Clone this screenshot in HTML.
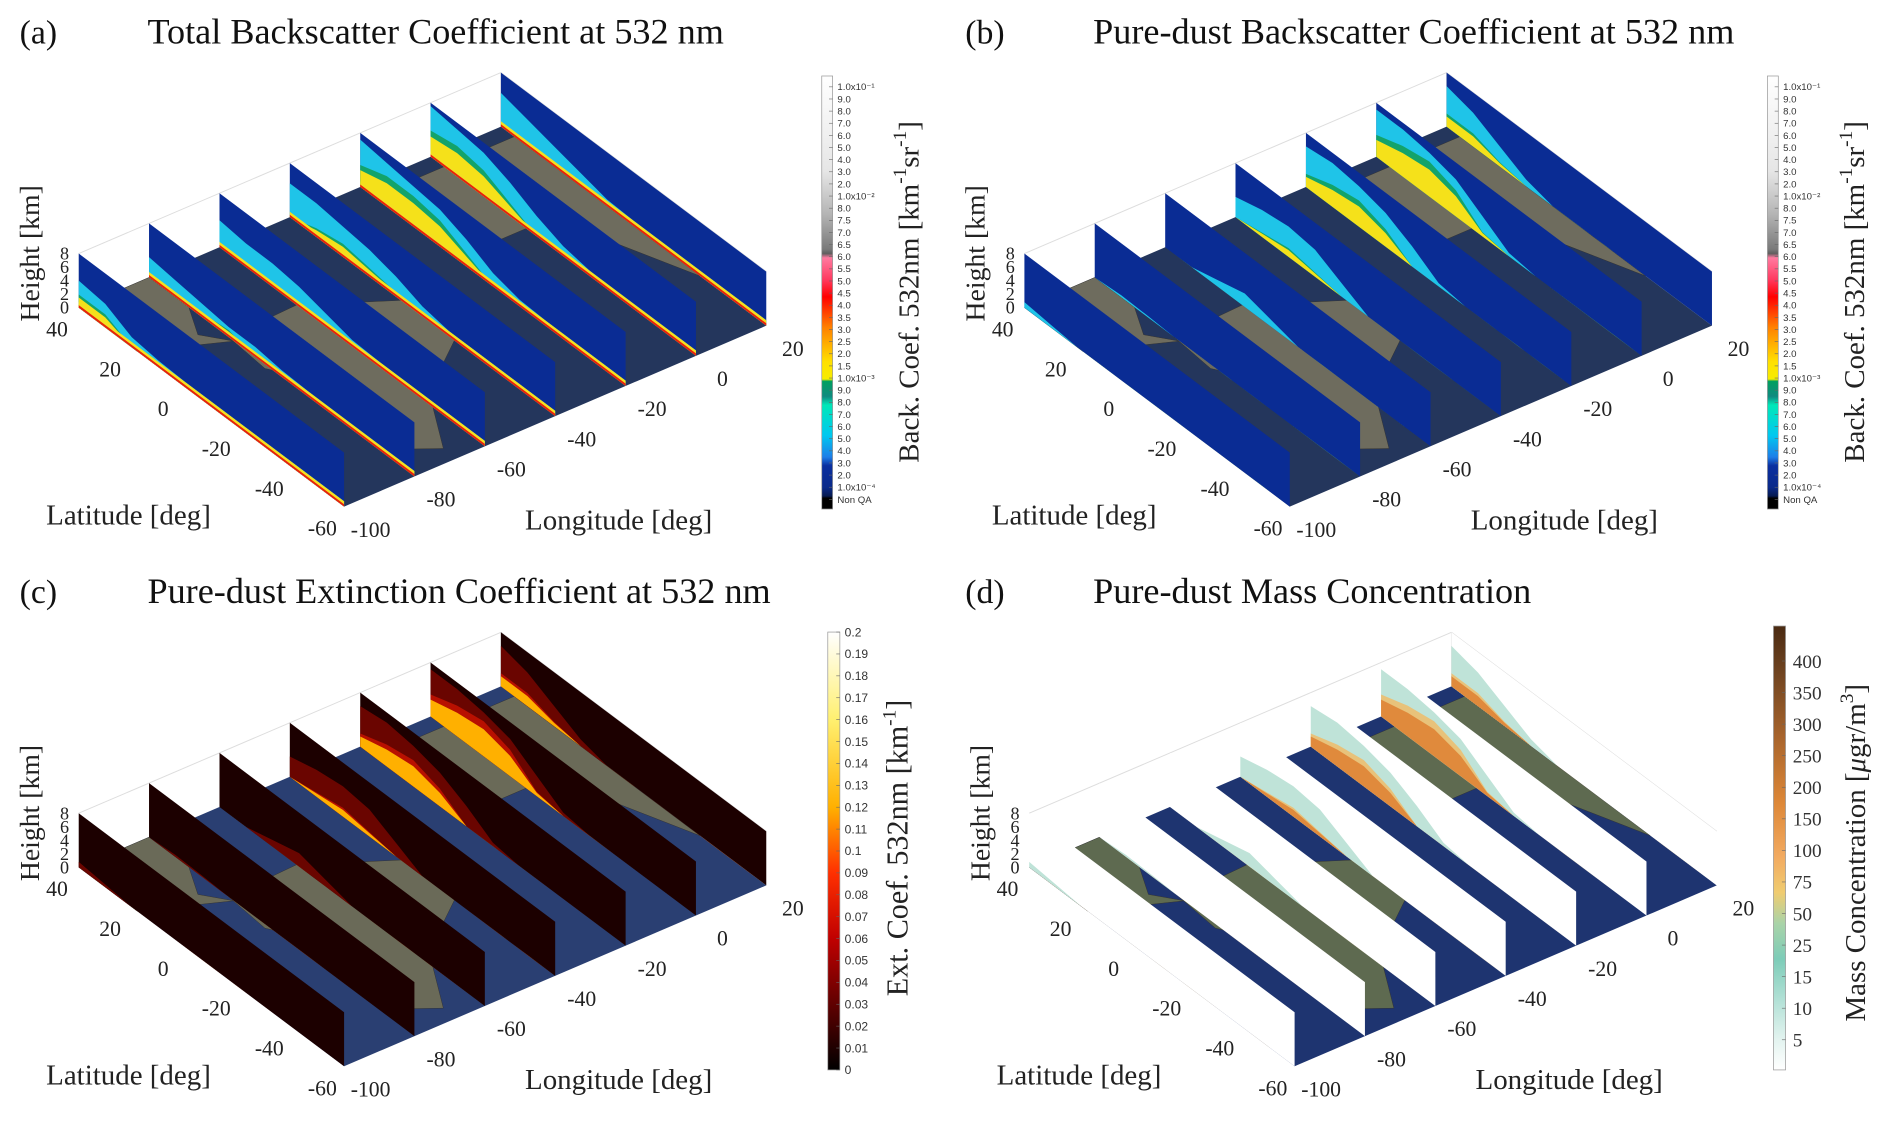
<!DOCTYPE html>
<html><head><meta charset="utf-8"><style>
html,body{margin:0;padding:0;background:#fff;}
svg{display:block;font-family:"Liberation Serif",serif;}
</style></head><body>
<svg id="fig" width="1892" height="1123" viewBox="0 0 1568 931" xmlns="http://www.w3.org/2000/svg"></svg>
<script>
const lats=[40,30,20,10,0,-10,-20,-30,-40,-50,-60];
const curtainLons=[-100,-80,-60,-40,-20,0,20];
const heightTicks=[0,2,4,6,8];
const latTicks=[40,20,0,-20,-40,-60];
const lonTicks=[-100,-80,-60,-40,-20,0,20];
// panel (a) total backscatter layers (km)
const layerA=[[4,3.5,1.5,1,0.8,0.8,0.8,0.8,0.8,0.8,0.8],[3,2.5,2,1.5,1.5,1,0.8,0.8,0.8,0.8,0.8],[4,3.5,3.5,3,2,1,0.8,0.8,0.8,0.8,0.8],[5,5,4.5,4,3,1.5,0.8,0.8,0.8,0.8,0.8],[7,6.5,6,5.5,4,2,1,0.8,0.8,0.8,0.8],[7.5,7,6.5,5,3,1.5,0.8,0.8,0.8,0.8,0.8],[5,4,3,2,1,0.8,0.8,0.8,0.8,0.8,0.8]];
const coreA=[[1.5,1.5,0,0,0,0,0,0,0,0,0],[0,0,0.5,0.8,0,0,0,0,0,0,0],[0,0,0,0,0,0,0,0,0,0,0],[0,1,1.5,1,0.5,0,0,0,0,0,0],[2.5,3.5,3.5,3,1.5,0,0,0,0,0,0],[3,3.5,3,1.5,0,0,0,0,0,0,0],[0,0,0,0,0,0,0,0,0,0,0]];
// pure-dust layers (b,c,d)
const layerDust=[[0.8,0.4,0,0,0,0,0,0,0,0,0],[0,0.3,0.2,0,0,0,0,0,0,0,0],[0,0,1,2,1,0,0,0,0,0,0],[3,4,4.5,4,2,0,0,0,0,0,0],[6,6.5,6,5,3,0.5,0,0,0,0,0],[7,7,6.5,5.5,3,0.5,0,0,0,0,0],[6,5,3,1,0,0,0,0,0,0,0]];
const coreDust=[[0,0,0,0,0,0,0,0,0,0,0],[0,0,0,0,0,0,0,0,0,0,0],[0,0,0,0,0,0,0,0,0,0,0],[0,0.5,1,0.5,0,0,0,0,0,0,0],[1.5,2.5,3,2,0,0,0,0,0,0,0],[2.5,3.5,4,3,0.5,0,0,0,0,0,0],[1.5,1.5,0.5,0,0,0,0,0,0,0,0]];
const cbA=["1.0x10⁻¹","9.0","8.0","7.0","6.0","5.0","4.0","3.0","2.0","1.0x10⁻²","8.0","7.5","7.0","6.5","6.0","5.5","5.0","4.5","4.0","3.5","3.0","2.5","2.0","1.5","1.0x10⁻³","9.0","8.0","7.0","6.0","5.0","4.0","3.0","2.0","1.0x10⁻⁴","Non QA"];
const cbC=["0.2","0.19","0.18","0.17","0.16","0.15","0.14","0.13","0.12","0.11","0.1","0.09","0.08","0.07","0.06","0.05","0.04","0.03","0.02","0.01","0"];
const cbD=["400","350","300","250","200","150","100","75","50","25","15","10","5"];

const svg=document.getElementById('fig');
const NS="http://www.w3.org/2000/svg";
function mk(tag,attrs,parent){const e=document.createElementNS(NS,tag);for(const k in attrs)e.setAttribute(k,attrs[k]);(parent||svg).appendChild(e);return e;}
function P(p,lon,lat,h){return [p.ox+(lon+100)*2.917+(lat+60)*(-2.2), p.oy+(lon+100)*(-1.25)+(lat+60)*(-1.65)+h*(-5.6)];}
function pts(a){return a.map(q=>q[0].toFixed(1)+","+q[1].toFixed(1)).join(" ");}

const panels=[
 {id:"a",ox:285,oy:420,tx:16,ty:27,title:"Total Backscatter Coefficient at 532 nm",curtain:"#0a2c94",layer:"#1fc4e8",mid:"#13a36a",core:"#f5e11a",stripe:true,L:layerA,C:coreA,floor:"#24365c",land:"#6e6c5e"},
 {id:"b",ox:1069,oy:420,tx:800,ty:27,title:"Pure-dust Backscatter Coefficient at 532 nm",curtain:"#0a2c94",layer:"#1fc4e8",mid:"#13a36a",core:"#f5e11a",stripe:false,L:layerDust,C:coreDust,floor:"#24365c",land:"#6e6c5e"},
 {id:"c",ox:285,oy:884,tx:16,ty:491,title:"Pure-dust Extinction Coefficient at 532 nm",curtain:"#1c0000",layer:"#6a0500",mid:"#b81000",core:"#ffb000",stripe:false,L:layerDust,C:coreDust,floor:"#2a3f72",land:"#6a6a58"},
 {id:"d",ox:1073,oy:884,tx:800,ty:491,title:"Pure-dust Mass Concentration",curtain:"#ffffff",layer:"#bfe3d8",mid:"#e8c27a",core:"#e08a3c",stripe:false,L:layerDust,C:coreDust,floor:"#1e3470",land:"#5e6a50"}
];
const landPolys=[
 [[-100,40],[-80,40],[-80,25],[-85,15],[-80,8],[-100,18]],
 [[-80,10],[-60,11],[-35,-5],[-40,-22],[-57,-35],[-68,-55],[-75,-50],[-72,-20],[-81,-5]],
 [[-17,35],[20,35],[20,-35],[10,-5],[9,4],[-8,4],[-17,14]]
];

panels.forEach(p=>{
 const g=mk('g',{});
 
 
 const lab=mk('text',{x:p.tx,y:p.ty+9,'font-size':28,fill:'#111'},g);lab.textContent="("+p.id+")";
 
 
 const tt=mk('text',{x:p.tx+106,y:p.ty+9,'font-size':30,fill:'#111'},g);tt.textContent=p.title;
 
 
 [[P(p,-100,40,8),P(p,20,40,8)],[P(p,20,40,8),P(p,20,-60,8)],[P(p,20,40,0),P(p,20,40,8)]].forEach(l=>{mk('line',{x1:l[0][0],y1:l[0][1],x2:l[1][0],y2:l[1][1],stroke:'#ddd','stroke-width':0.8},g);});
 const fl=mk('polygon',{points:pts([P(p,-100,-60,0),P(p,20,-60,0),P(p,20,40,0),P(p,-100,40,0)]),fill:p.floor},g);
 
 
 landPolys.forEach(poly=>{const lp=mk('polygon',{points:pts(poly.map(q=>P(p,q[0],q[1],0))),fill:p.land,stroke:'#333','stroke-width':0.4},g);
  
  });
 for(let k=curtainLons.length-1;k>=0;k--){
  const lon=curtainLons[k];
  const cg=mk('g',{},g);
  
  
  mk('polygon',{points:pts([P(p,lon,40,0),P(p,lon,-60,0),P(p,lon,-60,8),P(p,lon,40,8)]),fill:p.curtain},cg);
  const base=[P(p,lon,-60,0),P(p,lon,40,0)];
  const lay=lats.map((la,i)=>P(p,lon,la,p.L[k][i]));
  mk('polygon',{points:pts(lay.concat(base)),fill:p.layer},cg);
  const mid=lats.map((la,i)=>P(p,lon,la,Math.min(p.C[k][i]*1.3,p.L[k][i]*0.85)));
  mk('polygon',{points:pts(mid.concat(base)),fill:p.mid},cg);
  const core=lats.map((la,i)=>P(p,lon,la,p.C[k][i]));
  mk('polygon',{points:pts(core.concat(base)),fill:p.core},cg);
  if(p.stripe){
   mk('polygon',{points:pts([P(p,lon,40,0),P(p,lon,-60,0),P(p,lon,-60,0.8),P(p,lon,40,0.8)]),fill:'#f4e020'},cg);
   mk('polygon',{points:pts([P(p,lon,40,0),P(p,lon,-60,0),P(p,lon,-60,0.35),P(p,lon,40,0.35)]),fill:'#e8200c'},cg);
  }
 }
 heightTicks.forEach(h=>{const q=P(p,-100,40,h);const t=mk('text',{x:q[0]-8,y:q[1]+5,'font-size':15,'text-anchor':'end',fill:'#222'},g);t.textContent=h;
  
  });
 latTicks.forEach(la=>{const q=P(p,-100,la,0);const t=mk('text',{x:q[0]-18,y:q[1]+24,'font-size':18,'text-anchor':'middle',fill:'#222'},g);t.textContent=la;
  
  });
 lonTicks.forEach(lo=>{const q=P(p,lo,-60,0);const t=mk('text',{x:q[0]+22,y:q[1]+25,'font-size':18,'text-anchor':'middle',fill:'#222'},g);t.textContent=lo;
  
  });
 const hl=mk('text',{transform:'translate('+(p.ox-253)+','+(p.oy-210)+') rotate(-90)','font-size':23,'text-anchor':'middle',fill:'#222'},g);hl.textContent="Height [km]";
 
 
 const la=mk('text',{x:p.ox-247,y:p.oy+15,'font-size':24,fill:'#222'},g);la.textContent="Latitude [deg]";
 
 
 const lo=mk('text',{x:p.ox+150,y:p.oy+19,'font-size':24,fill:'#222'},g);lo.textContent="Longitude [deg]";
 
 
});

const defs=mk('defs',{});
function grad(id,stops){const lg=mk('linearGradient',{id:id,x1:0,y1:0,x2:0,y2:1},defs);stops.forEach(s=>mk('stop',{offset:s[0],'stop-color':s[1]},lg));}
grad('gA',[[0,'#ffffff'],[0.22,'#e6e6e6'],[0.32,'#b4b4b4'],[0.4,'#7a7a7a'],[0.41,'#5e5e5e'],[0.42,'#ff7aa0'],[0.47,'#ff3a60'],[0.51,'#ff0000'],[0.58,'#ff8000'],[0.66,'#ffe000'],[0.7,'#f7ec00'],[0.705,'#00a060'],[0.74,'#108a80'],[0.76,'#00e8b8'],[0.83,'#00c8f0'],[0.88,'#1e7ee8'],[0.9,'#0a2fa0'],[0.95,'#0a2a8a'],[0.97,'#061a50'],[0.975,'#000'],[1,'#000']]);
grad('gC',[[0,'#ffffff'],[0.2,'#fff070'],[0.4,'#ffb000'],[0.55,'#ff3000'],[0.7,'#c00000'],[0.85,'#600000'],[1,'#000000']]);
grad('gD',[[0,'#4a2a12'],[0.1,'#6e4320'],[0.25,'#a8642c'],[0.4,'#de8838'],[0.52,'#f2aa60'],[0.6,'#f0cc70'],[0.67,'#a9d3a8'],[0.75,'#7dccb8'],[0.85,'#b6e2d8'],[0.93,'#e2f3ef'],[1,'#ffffff']]);

function colorbar(name,x,y0,w,h,gid,labels,ly0,ly1,fs,lx,title,tx,ty,tfs){
 const g=mk('g',{});
 
 
 mk('rect',{x:x,y:y0,width:w,height:h,fill:'url(#'+gid+')',stroke:'#999','stroke-width':0.6},g);
 labels.forEach((s,i)=>{const yy=ly0+(ly1-ly0)*i/(labels.length-1);
  mk('line',{x1:x+w-3,y1:yy,x2:x+w,y2:yy,stroke:'#666','stroke-width':0.5},g);
  const t=mk('text',{x:lx,y:yy+fs*0.35,'font-size':fs,fill:'#333','font-family':(fs<12?'Liberation Sans, sans-serif':'Liberation Serif, serif')},g);t.textContent=s;
  
  });
 const tt=mk('text',{transform:'translate('+tx+','+ty+') rotate(-90)','font-size':tfs,'text-anchor':'middle',fill:'#222'},g);
 tt.innerHTML=title;
 
 
}
const tA='Back. Coef. 532nm [km<tspan dy="-10" font-size="16">-1</tspan><tspan dy="10">sr</tspan><tspan dy="-10" font-size="16">-1</tspan><tspan dy="10">]</tspan>';
colorbar('colorbar-a',681,63,9,359,'gA',cbA,72,414,8,694,tA,761,242,24);
colorbar('colorbar-b',1465,63,9,359,'gA',cbA,72,414,8,1478,tA,1545,242,24);
colorbar('colorbar-c',686,524,10,363,'gC',cbC,524,887,10,700,'Ext. Coef. 532nm [km<tspan dy="-10" font-size="16">-1</tspan><tspan dy="10">]</tspan>',752,703,25);
colorbar('colorbar-d',1470,519,10,368,'gD',cbD,548,862,16,1486,'Mass Concentration [<tspan font-style="italic">μ</tspan>gr/m<tspan dy="-10" font-size="16">3</tspan><tspan dy="10">]</tspan>',1546,707,24);
</script>
</body></html>
